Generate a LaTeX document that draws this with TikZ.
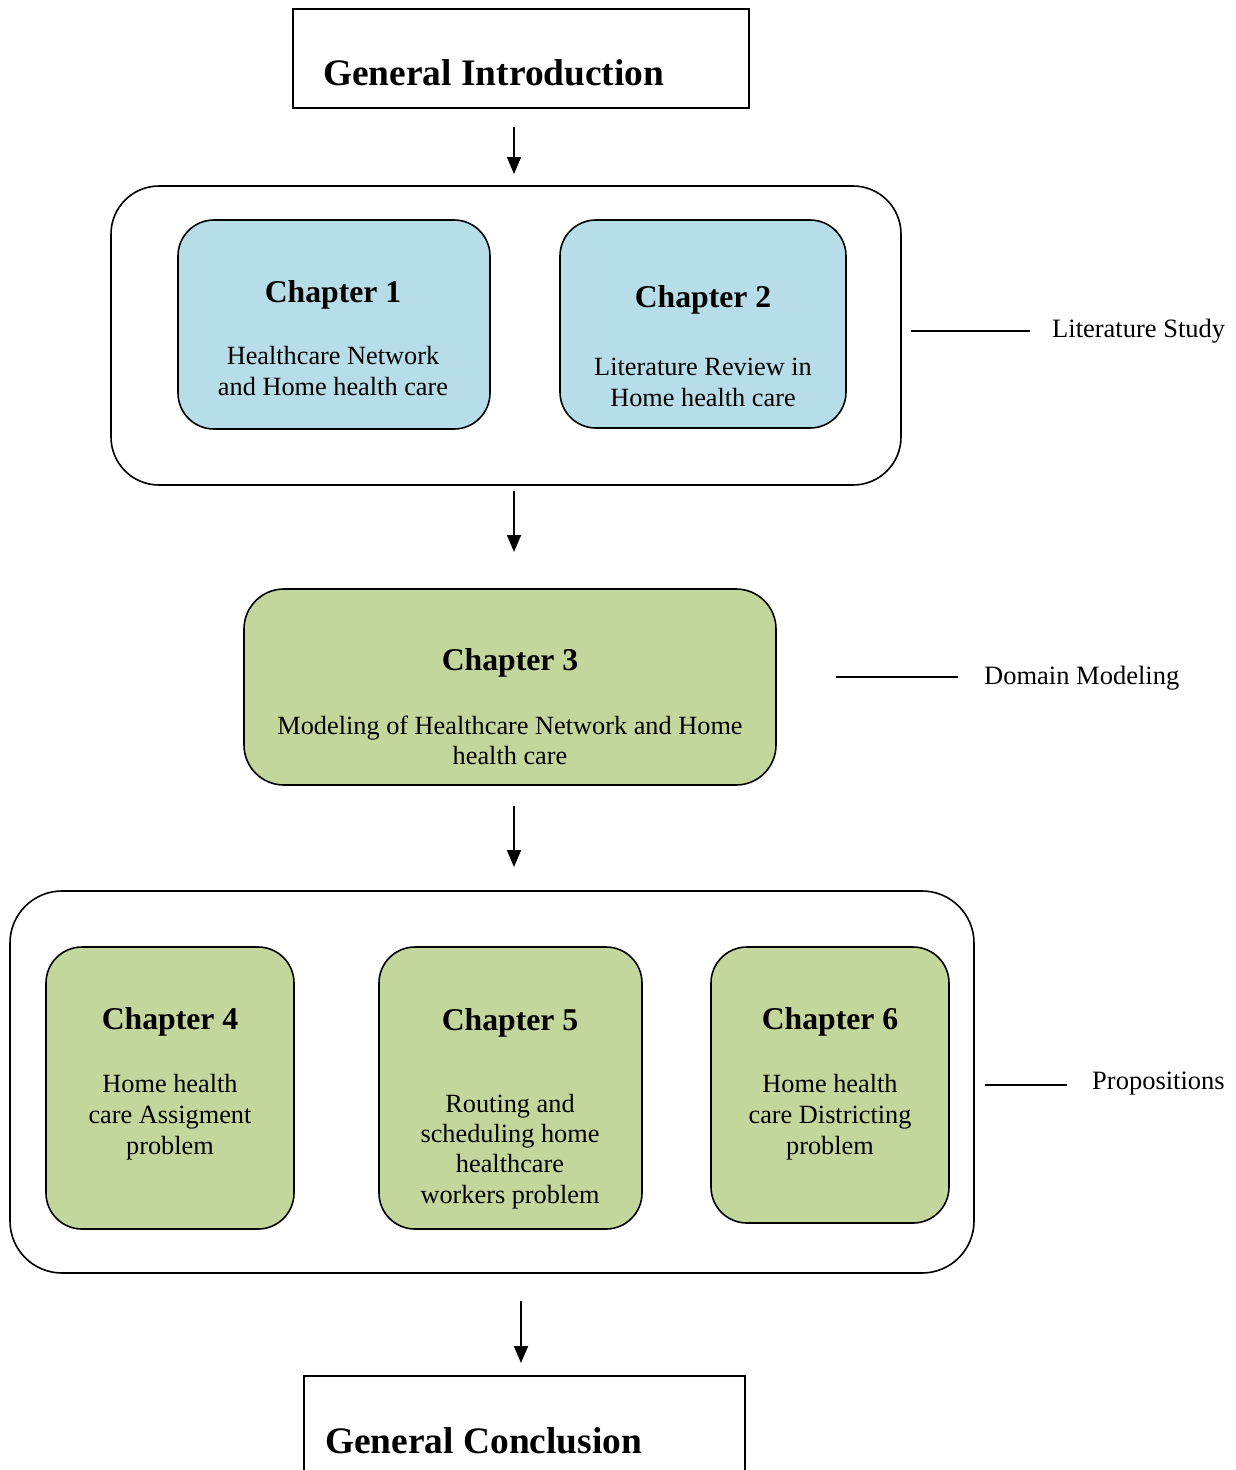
\documentclass[tikz,border=0pt]{standalone}
\usepackage{fontspec}
\setmainfont{Liberation Serif}
\usetikzlibrary{arrows.meta}
\definecolor{chblue}{HTML}{B7DDE8}
\definecolor{chgreen}{HTML}{C3D69B}
\begin{document}
\begin{tikzpicture}[x=1pt,y=-1pt,
  plainbox/.style={draw,line width=1.8pt,rectangle,inner sep=0pt},
  groupbox/.style={draw,line width=1.6pt,rectangle,rounded corners=48pt,inner sep=0pt},
  chapbox/.style={draw,line width=1.6pt,rectangle,rounded corners=36pt,inner sep=0pt},
  bigtitle/.style={font=\fontsize{37.4}{44}\selectfont\bfseries,inner sep=0pt,anchor=base west},
  chtitle/.style={font=\fontsize{31.7}{37}\selectfont\bfseries,inner sep=0pt,anchor=base},
  chbody/.style={font=\fontsize{26.3}{31}\selectfont,inner sep=0pt,anchor=base,align=center},
  sidelabel/.style={font=\fontsize{26.5}{30}\selectfont,inner sep=0pt,anchor=base west},
  flow/.style={line width=1.8pt,-{Triangle[length=17pt,width=14pt]}},
  tick/.style={line width=1.8pt}]
\useasboundingbox (0,0) rectangle (1235,1470);
\clip (0,0) rectangle (1235,1470);
\fill[white] (0,0) rectangle (1235,1470);

% General Introduction
\node[plainbox,minimum width=456pt,minimum height=99pt] (intro) at (521,58.5) {};
\node[bigtitle] (introt) at (323,85) {General Introduction};

% Literature study group
\node[groupbox,minimum width=790pt,minimum height=299pt] (lit) at (506,335.5) {};
\node[chapbox,fill=chblue,minimum width=312pt,minimum height=209pt] (ch1) at (334,324.5) {};
\node[chtitle] (ch1t) at (333,302) {Chapter 1};
\node[chbody] (ch1b) at (333,395) {Healthcare Network\\and Home health care};
\node[chapbox,fill=chblue,minimum width=286pt,minimum height=208pt] (ch2) at (703,324) {};
\node[chtitle] (ch2t) at (703,307) {Chapter 2};
\node[chbody] (ch2b) at (703,406) {Literature Review in\\Home health care};

% Chapter 3
\node[chapbox,rounded corners=40pt,fill=chgreen,minimum width=532pt,minimum height=196pt] (ch3) at (510,687) {};
\node[chtitle] (ch3t) at (510,670) {Chapter 3};
\node[chbody,font=\fontsize{26.3}{30}\selectfont] (ch3b) at (510,764) {Modeling of Healthcare Network and Home\\health care};

% Propositions group
\node[groupbox,rounded corners=52pt,minimum width=964pt,minimum height=382pt] (prop) at (492,1082) {};
\node[chapbox,fill=chgreen,minimum width=248pt,minimum height=282pt] (ch4) at (170,1088) {};
\node[chtitle] (ch4t) at (170,1029) {Chapter 4};
\node[chbody] (ch4b) at (170,1154) {Home health\\care Assigment\\problem};
\node[chapbox,fill=chgreen,minimum width=263pt,minimum height=282pt] (ch5) at (510.5,1088) {};
\node[chtitle] (ch5t) at (510,1030) {Chapter 5};
\node[chbody,font=\fontsize{26.3}{30.3}\selectfont] (ch5b) at (510,1203) {Routing and\\scheduling home\\healthcare\\workers problem};
\node[chapbox,fill=chgreen,minimum width=238pt,minimum height=276pt] (ch6) at (830,1085) {};
\node[chtitle] (ch6t) at (830,1029) {Chapter 6};
\node[chbody] (ch6b) at (830,1154) {Home health\\care Districting\\problem};

% General Conclusion
\node[plainbox,minimum width=441pt,minimum height=110pt] (concl) at (524.5,1431) {};
\node[bigtitle] (conclt) at (325,1453) {General Conclusion};

% arrows
\coordinate (a1s) at (514,127); \coordinate (a1e) at (514,174);
\coordinate (a2s) at (514,491); \coordinate (a2e) at (514,552);
\coordinate (a3s) at (514,806); \coordinate (a3e) at (514,867);
\coordinate (a4s) at (521,1301); \coordinate (a4e) at (521,1363);
\draw[flow] (a1s) -- (a1e);
\draw[flow] (a2s) -- (a2e);
\draw[flow] (a3s) -- (a3e);
\draw[flow] (a4s) -- (a4e);

% side labels
\coordinate (s1a) at (911,331); \coordinate (s1b) at (1030,331);
\draw[tick] (s1a) -- (s1b);
\node[sidelabel] (litlab) at (1052,337) {Literature Study};
\coordinate (s2a) at (836,677); \coordinate (s2b) at (958,677);
\draw[tick] (s2a) -- (s2b);
\node[sidelabel] (domlab) at (984,684) {Domain Modeling};
\coordinate (s3a) at (985,1085); \coordinate (s3b) at (1067,1085);
\draw[tick] (s3a) -- (s3b);
\node[sidelabel] (proplab) at (1092,1089) {Propositions};
\end{tikzpicture}
\end{document}
